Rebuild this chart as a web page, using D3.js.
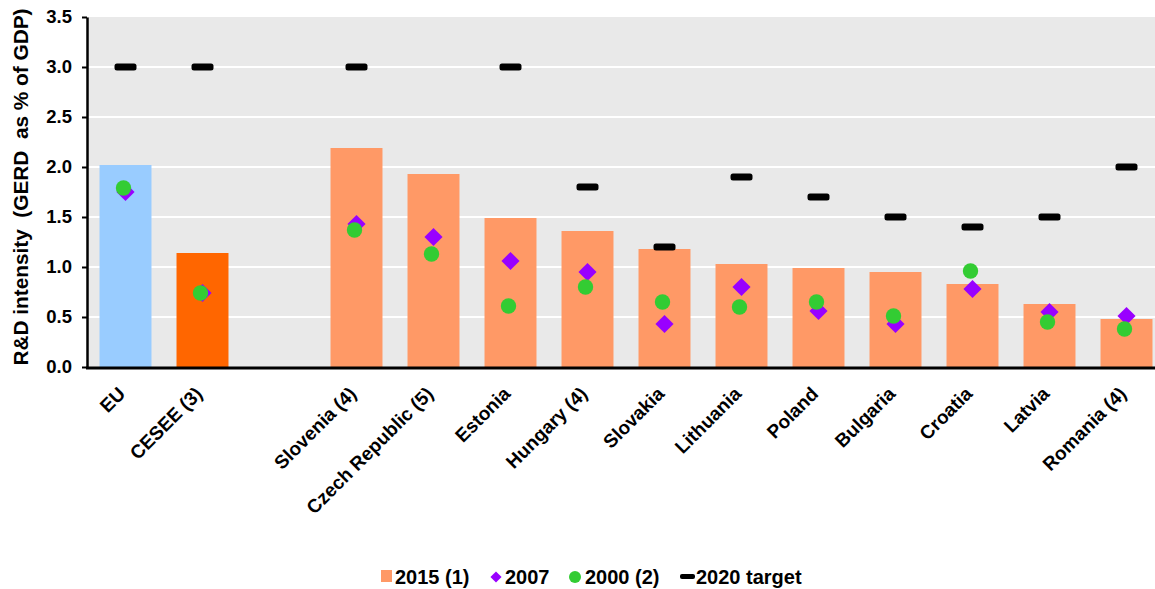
<!DOCTYPE html>
<html>
<head>
<meta charset="utf-8">
<script src="https://cdn.jsdelivr.net/npm/d3@7"></script>
<style>
  body { margin: 0; background: #fff; }
  svg { display: block; font-family: "Liberation Sans", Arial, sans-serif; }
</style>
</head>
<body>
<svg id="chart" width="1155" height="589"></svg>
<script>
// Categories ("" is an empty spacer slot between aggregates and countries)
const categories = ["EU", "CESEE (3)", "", "Slovenia (4)", "Czech Republic (5)", "Estonia",
  "Hungary (4)", "Slovakia", "Lithuania", "Poland", "Bulgaria", "Croatia", "Latvia", "Romania (4)"];
const values2015 = [2.02, 1.14, null, 2.19, 1.93, 1.49, 1.36, 1.18, 1.03, 0.99, 0.95, 0.83, 0.63, 0.48];
const values2007 = [1.75, 0.74, null, 1.43, 1.30, 1.06, 0.95, 0.43, 0.80, 0.56, 0.43, 0.78, 0.55, 0.51];
const values2000 = [1.79, 0.74, null, 1.37, 1.13, 0.61, 0.80, 0.65, 0.60, 0.65, 0.51, 0.96, 0.45, 0.38];
const target2020 = [3.0, 3.0, null, 3.0, null, 3.0, 1.8, 1.2, 1.9, 1.7, 1.5, 1.4, 1.5, 2.0];
const yTicks = [0, 0.5, 1.0, 1.5, 2.0, 2.5, 3.0, 3.5];
const legendLabels = ["2015 (1)", "2007", "2000 (2)", "2020 target"];

const barColor = d => d === "EU" ? "#99ccff" : d === "CESEE (3)" ? "#ff6600" : "#ff9966";
const C2007 = "#9900ff", C2000 = "#33cc33";

const svg = d3.select("#chart");
const plotL = 87, plotR = 1165, plotT = 17, plotB = 367;

const x = d3.scaleBand().domain(categories.map((c, i) => i)).range([plotL, plotR]).paddingInner(0.325).paddingOuter(0.1625);
const y = d3.scaleLinear().domain([0, 3.5]).range([plotB, plotT]);

// plot background
svg.append("rect").attr("x", plotL).attr("y", plotT).attr("width", plotR - plotL).attr("height", plotB - plotT).attr("fill", "#e9e9e9");

// gridlines
svg.append("g").selectAll("line").data(yTicks.slice(1, -1)).join("line")
  .attr("x1", plotL).attr("x2", plotR)
  .attr("y1", d => y(d)).attr("y2", d => y(d))
  .attr("stroke", "#fff").attr("stroke-width", 2);

const idx = categories.map((c, i) => i);

// 2015 bars
svg.append("g").selectAll("rect").data(idx.filter(i => values2015[i] != null)).join("rect")
  .attr("x", i => x(i)).attr("width", x.bandwidth())
  .attr("y", i => y(values2015[i])).attr("height", i => y(0) - y(values2015[i]))
  .attr("fill", i => barColor(categories[i]));

const cx = i => x(i) + x.bandwidth() / 2;

// 2020 targets
svg.append("g").selectAll("rect").data(idx.filter(i => target2020[i] != null)).join("rect")
  .attr("x", i => cx(i) - 11).attr("y", i => y(target2020[i]) - 3.5)
  .attr("width", 22).attr("height", 7).attr("rx", 2.5).attr("fill", "#000");

// 2007 diamonds
const diamond = d3.symbol().type(d3.symbolSquare).size(165);
svg.append("g").selectAll("path").data(idx.filter(i => values2007[i] != null)).join("path")
  .attr("d", diamond)
  .attr("transform", i => `translate(${cx(i)},${y(values2007[i])}) rotate(45)`)
  .attr("fill", C2007);

// 2000 circles
svg.append("g").selectAll("circle").data(idx.filter(i => values2000[i] != null)).join("circle")
  .attr("cx", i => cx(i) - 2).attr("cy", i => y(values2000[i])).attr("r", 7.7)
  .attr("fill", C2000);

// y axis
const yAxis = svg.append("g").attr("transform", `translate(${plotL},0)`)
  .call(d3.axisLeft(y).tickValues(yTicks).tickFormat(d3.format(".1f")).tickSizeOuter(0).tickSizeInner(5).tickPadding(10));
yAxis.select(".domain").attr("stroke", "#000").attr("stroke-width", 2.5);
yAxis.selectAll(".tick line").attr("stroke", "#000").attr("stroke-width", 2);
yAxis.selectAll(".tick text").attr("font-size", 18.5).attr("font-weight", "bold").attr("fill", "#000")
  .attr("font-family", "Liberation Sans, Arial, sans-serif");

// x axis baseline and labels
svg.append("line").attr("x1", plotL - 1).attr("x2", plotR).attr("y1", plotB + 1).attr("y2", plotB + 1)
  .attr("stroke", "#000").attr("stroke-width", 3);

svg.append("g").selectAll("text").data(idx.filter(i => categories[i] !== "")).join("text")
  .attr("transform", i => `translate(${cx(i) + 1},${plotB + 28}) rotate(-45)`)
  .attr("text-anchor", "end")
  .attr("font-size", 19).attr("font-weight", "bold").attr("fill", "#000")
  .text(i => categories[i]);

// y axis title
svg.append("text")
  .attr("transform", `translate(28,187) rotate(-90)`)
  .attr("text-anchor", "middle").attr("font-size", 20.8).attr("font-weight", "bold").attr("fill", "#000")
  .attr("xml:space", "preserve")
  .text("R&D intensity  (GERD  as % of GDP)");

// legend
const lg = svg.append("g").attr("font-size", 20).attr("font-weight", "bold").attr("fill", "#000");
const ly = 577;
lg.append("rect").attr("x", 381).attr("y", ly - 7).attr("width", 11).attr("height", 12).attr("fill", "#ff9966");
lg.append("text").attr("x", 395).attr("y", ly + 7).text(legendLabels[0]);
lg.append("path").attr("d", d3.symbol().type(d3.symbolSquare).size(62))
  .attr("transform", `translate(496,${ly}) rotate(45)`).attr("fill", C2007);
lg.append("text").attr("x", 505).attr("y", ly + 7).text(legendLabels[1]);
lg.append("circle").attr("cx", 575).attr("cy", ly).attr("r", 6).attr("fill", C2000);
lg.append("text").attr("x", 585).attr("y", ly + 7).text(legendLabels[2]);
lg.append("rect").attr("x", 680).attr("y", ly - 3).attr("width", 15).attr("height", 5).attr("rx", 2).attr("fill", "#000");
lg.append("text").attr("x", 696).attr("y", ly + 7).text(legendLabels[3]);
</script>
</body>
</html>
